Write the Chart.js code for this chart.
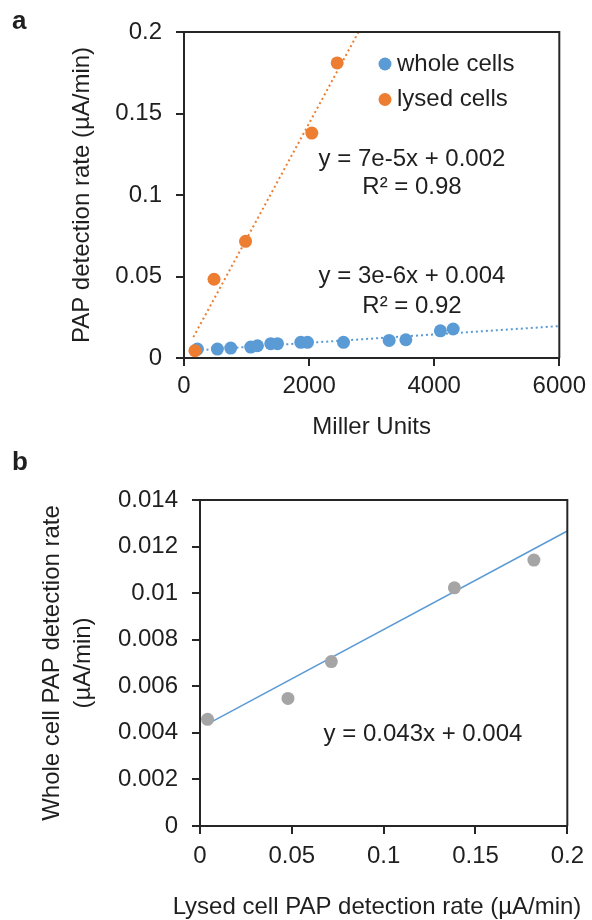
<!DOCTYPE html>
<html>
<head>
<meta charset="utf-8">
<script src="https://cdn.jsdelivr.net/npm/chart.js@4.4.1/dist/chart.umd.min.js"></script>
<style>
  body { margin: 0; background: #fff; }
  #wrap { position: relative; width: 592px; height: 920px; }
  canvas { position: absolute; left: 0; }
  #chartA { top: 0; }
  #chartB { top: 450px; }
</style>
</head>
<body>
<div id="wrap">
  <canvas id="chartA" width="592" height="450"></canvas>
  <canvas id="chartB" width="592" height="470"></canvas>
</div>
<script>
// panel a - PAP rate vs Miller units
const wholeMiller = [214, 534, 747, 1067, 1174, 1387, 1494, 1867, 1974, 2550, 3280, 3547, 4099, 4304];
const wholeRate = [0.0055, 0.0055, 0.0061, 0.0067, 0.0075, 0.0088, 0.0088, 0.0096, 0.0096, 0.0096, 0.0108, 0.0112, 0.0167, 0.0178];
const lysedMiller = [175, 480, 984, 2043, 2449];
const lysedRate = [0.0045, 0.0483, 0.0716, 0.138, 0.181];
// trendline end points
const wholeTrendX = [200, 6000];
const wholeTrendY = [0.0047, 0.0196];
const lysedTrendX = [150, 2790];
const lysedTrendY = [0.0128, 0.2];
const xTicksA = [0, 2000, 4000, 6000];
const yTicksA = [0, 0.05, 0.1, 0.15, 0.2];

// panel b - whole vs lysed
const lysedRateB = [0.0041, 0.0479, 0.0715, 0.1385, 0.1818];
const wholeRateB = [0.00458, 0.00548, 0.00706, 0.01023, 0.01142];
const fitX = [0.0045, 0.2];
const fitY = [0.0044, 0.01267];
const xTicksB = [0, 0.05, 0.1, 0.15, 0.2];
const yTicksB = [0, 0.002, 0.004, 0.006, 0.008, 0.01, 0.012, 0.014];

const BLUE = '#5B9BD5';
const ORANGE = '#ED7D31';
const GRAY = '#A5A5A5';
const TEXT = '#1f1f1f';
const AXIS = '#262626';
const FONT = "'Liberation Sans', Arial, sans-serif";

Chart.defaults.font.family = FONT;
Chart.defaults.font.size = 24;
Chart.defaults.color = TEXT;

const pts = (xs, ys) => xs.map((x, i) => ({ x, y: ys[i] }));

// top + right border of the plot box
const frame = {
  id: 'frame',
  afterDraw(chart) {
    const { left, top, right, bottom } = chart.chartArea;
    const ctx = chart.ctx;
    ctx.save();
    ctx.strokeStyle = AXIS;
    ctx.lineWidth = 2;
    ctx.beginPath();
    ctx.moveTo(left, top);
    ctx.lineTo(right, top);
    ctx.lineTo(right, bottom);
    ctx.stroke();
    ctx.restore();
  }
};

// free text: panel letters, equations
const texts = {
  id: 'texts',
  afterDraw(chart, args, opts) {
    const ctx = chart.ctx;
    ctx.save();
    ctx.fillStyle = TEXT;
    ctx.textBaseline = 'alphabetic';
    (opts.items || []).forEach(t => {
      ctx.font = t.bold ? `bold ${t.size}px ${FONT}` : `${t.size || 24}px ${FONT}`;
      ctx.textAlign = t.align || 'left';
      ctx.fillText(t.text, t.x, t.y);
    });
    ctx.restore();
  }
};

// legend inside the plot, dots only
const dotLegend = {
  id: 'dotLegend',
  afterDraw(chart, args, o) {
    if (!o.labels) return;
    const ctx = chart.ctx;
    ctx.save();
    ctx.font = `24px ${FONT}`;
    ctx.textBaseline = 'middle';
    ctx.textAlign = 'left';
    o.labels.forEach((lbl, i) => {
      const ds = chart.data.datasets.find(d => d.label === lbl);
      const y = o.y + i * o.gap;
      ctx.fillStyle = ds.backgroundColor;
      ctx.beginPath();
      ctx.arc(o.x, y, o.r, 0, Math.PI * 2);
      ctx.fill();
      ctx.fillStyle = TEXT;
      ctx.fillText(lbl, o.x + o.textGap, y);
    });
    ctx.restore();
  }
};

function axis(ticks, fitFn, padding, title) {
  return {
    type: 'linear',
    min: ticks[0],
    max: ticks[ticks.length - 1],
    afterBuildTicks: s => { s.ticks = ticks.map(v => ({ value: v })); },
    afterFit: fitFn,
    grid: { drawOnChartArea: false, drawTicks: true, tickLength: 8, color: AXIS, lineWidth: 2 },
    border: { color: AXIS, width: 2 },
    ticks: { padding, autoSkip: false, maxRotation: 0, callback: v => String(v) },
    title: title || { display: false }
  };
}

new Chart(document.getElementById('chartA'), {
  type: 'scatter',
  data: {
    datasets: [{
      label: 'lysed cells',
      data: pts(lysedMiller, lysedRate),
      backgroundColor: ORANGE,
      pointRadius: 6.5,
      pointBorderWidth: 0,
      order: 0
    }, {
      label: 'whole cells',
      data: pts(wholeMiller, wholeRate),
      backgroundColor: BLUE,
      pointRadius: 6.5,
      pointBorderWidth: 0,
      order: 1
    }, {
      label: 'lysed trend',
      data: pts(lysedTrendX, lysedTrendY),
      showLine: true,
      borderColor: ORANGE,
      borderWidth: 2,
      borderDash: [2, 3],
      pointRadius: 0,
      order: 2
    }, {
      label: 'whole trend',
      data: pts(wholeTrendX, wholeTrendY),
      showLine: true,
      borderColor: BLUE,
      borderWidth: 2,
      borderDash: [2, 3],
      pointRadius: 0,
      order: 3
    }]
  },
  options: {
    responsive: false,
    animation: false,
    events: [],
    layout: { padding: { left: 0, top: 32, right: 30, bottom: 0 } },
    scales: {
      x: axis(xTicksA, s => { s.height = 92; }, 6,
        { display: true, text: 'Miller Units', padding: { top: 0, bottom: 8 } }),
      y: axis(yTicksA, s => { s.width = 184; }, 14,
        { display: true, text: 'PAP detection rate (µA/min)', padding: { top: 68, bottom: 0 } })
    },
    plugins: {
      legend: { display: false },
      tooltip: { enabled: false },
      dotLegend: { labels: ['whole cells', 'lysed cells'], x: 385, y: 64, gap: 35.5, r: 6.5, textGap: 12 },
      texts: {
        items: [
          { text: 'a', x: 12, y: 29, bold: true, size: 26 },
          { text: 'y = 7e-5x + 0.002', x: 412, y: 166, align: 'center' },
          { text: 'R² = 0.98', x: 412, y: 194, align: 'center' },
          { text: 'y = 3e-6x + 0.004', x: 412, y: 283, align: 'center' },
          { text: 'R² = 0.92', x: 412, y: 313, align: 'center' }
        ]
      }
    }
  },
  plugins: [frame, texts, dotLegend]
});

new Chart(document.getElementById('chartB'), {
  type: 'scatter',
  data: {
    datasets: [{
      label: 'whole vs lysed',
      data: pts(lysedRateB, wholeRateB),
      backgroundColor: GRAY,
      pointRadius: 6.5,
      pointBorderWidth: 0,
      order: 0
    }, {
      label: 'linear fit',
      data: pts(fitX, fitY),
      showLine: true,
      borderColor: BLUE,
      borderWidth: 1.5,
      pointRadius: 0,
      order: 1
    }]
  },
  options: {
    responsive: false,
    animation: false,
    events: [],
    layout: { padding: { left: 0, top: 50, right: 18, bottom: 0 } },
    scales: {
      x: axis(xTicksB, s => { s.height = 94; }, 8),
      y: axis(yTicksB, s => { s.width = 200; }, 14, {
        display: true,
        text: ['Whole cell PAP detection rate', '(µA/min)'],
        font: { lineHeight: 1.3 },
        padding: { top: 37, bottom: 0 }
      })
    },
    plugins: {
      legend: { display: false },
      tooltip: { enabled: false },
      texts: {
        items: [
          { text: 'b', x: 12, y: 20, bold: true, size: 26 },
          { text: 'y = 0.043x + 0.004', x: 423, y: 291, align: 'center' },
          { text: 'Lysed cell PAP detection rate (µA/min)', x: 377, y: 464, align: 'center' }
        ]
      }
    }
  },
  plugins: [frame, texts]
});
</script>
</body>
</html>
